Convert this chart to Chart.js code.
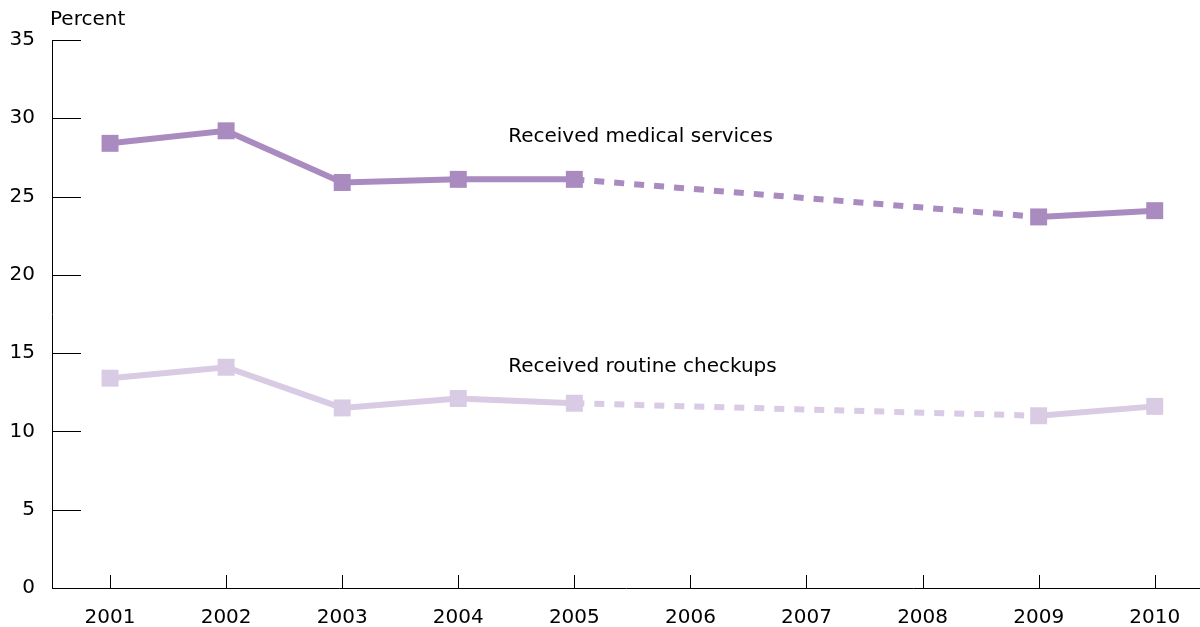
<!DOCTYPE html>
<html>
<head>
<meta charset="utf-8">
<script src="https://cdn.jsdelivr.net/npm/chart.js@4"></script>
<style>
	html, body { margin: 0; padding: 0; background: #fff; }
	#canvas { display: block; }
</style>
</head>
<body>
<canvas id="canvas" width="1200" height="627"></canvas>
<script>
const years = [2001, 2002, 2003, 2004, 2005, 2006, 2007, 2008, 2009, 2010];
const medical = [28.4, 29.2, 25.9, 26.1, 26.1, null, null, null, 23.7, 24.1];
const checkups = [13.4, 14.1, 11.5, 12.1, 11.8, null, null, null, 11.0, 11.6];
const yTicks = [0, 5, 10, 15, 20, 25, 30, 35];

const FONT = 'DejaVu Sans';

// points for the years that have a value; the gap years get a dashed join
const toPoints = vals => years.map((yr, i) => ({ x: yr, y: vals[i] })).filter(p => p.y !== null);
const dashGap = ctx => {
	const d = ctx.chart.data.datasets[ctx.datasetIndex].data;
	return d[ctx.p1DataIndex].x - d[ctx.p0DataIndex].x > 1 ? [10, 10] : undefined;
};

// ticks drawn inward, plus the in-chart labels
const extras = {
	id: 'extras',
	afterDraw(chart) {
		const { ctx, scales: { x, y } } = chart;
		ctx.save();
		ctx.strokeStyle = '#000';
		ctx.lineWidth = 1;
		ctx.beginPath();
		yTicks.forEach(v => {
			if (v === 0) return;
			const py = Math.round(y.getPixelForValue(v)) + 0.5;
			ctx.moveTo(x.left, py);
			ctx.lineTo(x.left + 29, py);
		});
		years.forEach(v => {
			const px = Math.round(x.getPixelForValue(v)) + 0.5;
			ctx.moveTo(px, y.bottom);
			ctx.lineTo(px, y.bottom - 13);
		});
		ctx.stroke();

		ctx.fillStyle = '#000';
		ctx.font = '20px "' + FONT + '"';
		ctx.textBaseline = 'middle';
		ctx.textAlign = 'left';
		ctx.fillText('Received medical services', x.getPixelForValue(2004.43), y.getPixelForValue(28.8));
		ctx.fillText('Received routine checkups', x.getPixelForValue(2004.43), y.getPixelForValue(14.1));
		ctx.fillText('Percent', 50, 20);
		ctx.restore();
	}
};

new Chart(document.getElementById('canvas'), {
	type: 'line',
	data: {
		datasets: [
			{
				label: 'Received medical services',
				data: toPoints(medical),
				borderColor: '#a98bc0',
				backgroundColor: '#a98bc0',
				borderWidth: 6,
				pointStyle: 'rect',
				pointRadius: 12,
				pointBorderWidth: 0,
				segment: { borderDash: dashGap },
			},
			{
				label: 'Received routine checkups',
				data: toPoints(checkups),
				borderColor: '#d9cbe3',
				backgroundColor: '#d9cbe3',
				borderWidth: 6,
				pointStyle: 'rect',
				pointRadius: 12,
				pointBorderWidth: 0,
				segment: { borderDash: dashGap },
			},
		]
	},
	options: {
		responsive: false,
		animation: false,
		devicePixelRatio: 1,
		layout: {
			autoPadding: false,
			padding: { top: 40, right: 0, left: 0, bottom: 0 }
		},
		plugins: {
			legend: { display: false },
			tooltip: { enabled: false },
		},
		elements: {
			line: { tension: 0, borderCapStyle: 'butt', borderJoinStyle: 'miter' },
		},
		scales: {
			x: {
				type: 'linear',
				min: 2000.5,
				max: 2010.39,
				afterBuildTicks: s => { s.ticks = years.map(v => ({ value: v })); },
				afterFit: s => { s.height = 39; s.paddingLeft = 0; s.paddingRight = 0; },
				grid: { display: false, drawTicks: false },
				border: { display: true, color: '#000', width: 1 },
				ticks: {
					color: '#000',
					padding: 18,
					maxRotation: 0,
					autoSkip: false,
					font: { family: FONT, size: 20 },
					callback: v => String(v),
				},
			},
			y: {
				min: 0,
				max: 35,
				afterBuildTicks: s => { s.ticks = yTicks.map(v => ({ value: v })); },
				afterFit: s => { s.width = 52; },
				grid: { display: false, drawTicks: false },
				border: { display: true, color: '#000', width: 1 },
				ticks: {
					color: '#000',
					padding: 17,
					font: { family: FONT, size: 20 },
				},
			},
		},
	},
	plugins: [extras],
});
</script>
</body>
</html>
